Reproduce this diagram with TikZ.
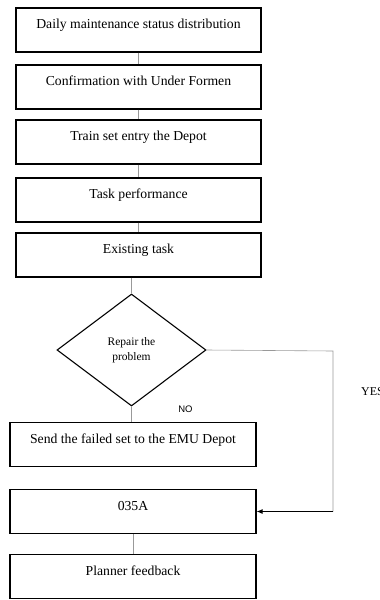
\documentclass[tikz,border=0pt]{standalone}
\usepackage{fontspec}
\setmainfont{Liberation Serif}
\newfontfamily\nofont{Liberation Sans}
\usetikzlibrary{shapes.geometric,arrows.meta}
\begin{document}
\begin{tikzpicture}[x=1pt,y=-1pt,
  stepbox/.style={draw=black, line width=1.1pt, rectangle, minimum height=44pt,
    inner sep=0pt, text height=9pt, text depth=12pt,
    font=\fontsize{13.7}{16}\selectfont},
  topbox/.style={stepbox, minimum width=245pt},
  lowbox/.style={stepbox, minimum width=246pt},
  decision/.style={draw=black, line width=1.1pt, diamond, minimum width=149pt,
    minimum height=112pt, inner sep=0pt, align=center,
    font=\fontsize{11.5}{15}\selectfont},
  link/.style={draw=gray!80, line width=0.6pt},
  yesarrow/.style={draw=black, line width=1pt, -{Latex[length=6pt,width=5pt]}}
]
\useasboundingbox (0,0) rectangle (380,600);
\node[topbox] (b1) at (138.5,30) {Daily maintenance status distribution};
\node[topbox] (b2) at (138.5,87) {Confirmation with Under Formen};
\node[topbox] (b3) at (138.5,142) {Train set entry the Depot};
\node[topbox] (b4) at (138.5,200) {Task performance};
\node[topbox] (b5) at (138.5,255) {Existing task};
\node[decision] (d) at (131.5,350) {Repair the\\problem};
\node[lowbox] (b6) at (133,444.5) {Send the failed set to the EMU Depot};
\node[lowbox] (b7) at (133,511.5) {035A};
\node[lowbox] (b8) at (133,576.5) {Planner feedback};
\coordinate (c1) at (333,351);
\coordinate (c2) at (333,511.5);
\node[font=\nofont\fontsize{9.5}{11}\selectfont] (no) at (185.5,409) {NO};
\node[anchor=west, inner sep=0pt, font=\fontsize{12}{14}\selectfont] (yes) at (361,392) {YES};

\draw[link] (b1.south) -- (b2.north);
\draw[link] (b2.south) -- (b3.north);
\draw[link] (b3.south) -- (b4.north);
\draw[link] (b4.south) -- (b5.north);
\draw[link] (b5.south -| d.north) -- (d.north);
\draw[link] (d.south) -- (d.south |- b6.north);
\draw[link] (b7.south) -- (b8.north);
\draw[link] (d.east) -- (c1) -- (c2);
\draw[yesarrow] (c2) -- (b7.east);
\end{tikzpicture}
\end{document}
